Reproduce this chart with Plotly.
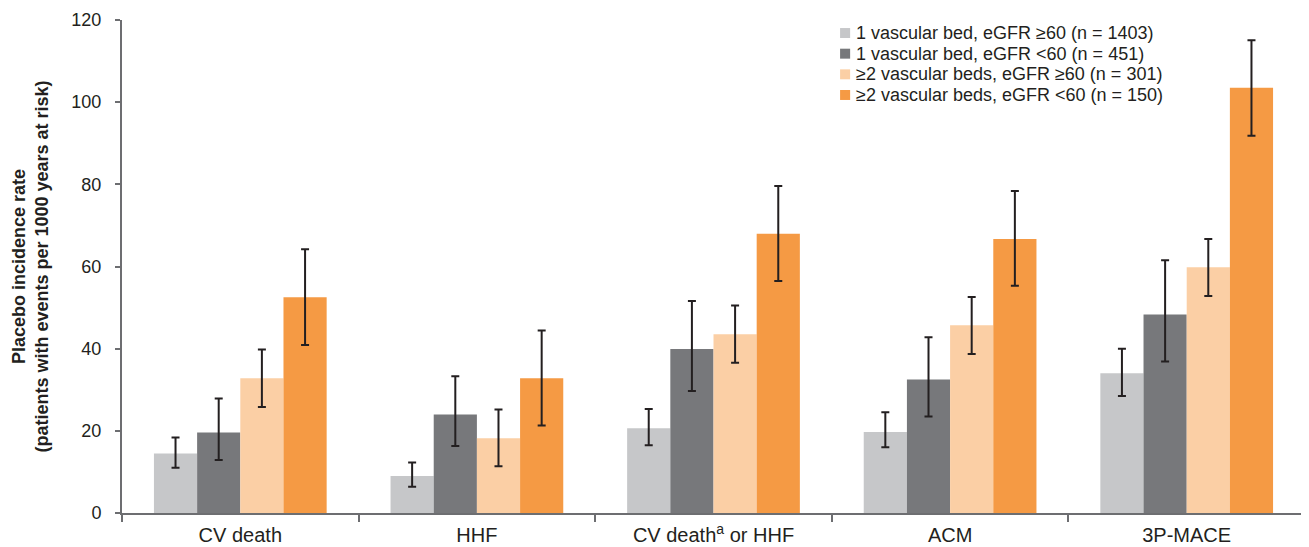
import plotly.graph_objects as go

categories = ["CV death", "HHF", "CV death<sup>a</sup> or HHF", "ACM", "3P-MACE"]
series_names = [
    "1 vascular bed, eGFR ≥60 (n = 1403)",
    "1 vascular bed, eGFR <60 (n = 451)",
    "≥2 vascular beds, eGFR ≥60 (n = 301)",
    "≥2 vascular beds, eGFR <60 (n = 150)",
]
colors = ["#c6c7c9", "#77787b", "#fbcfa5", "#f59a44"]

v1_ge60 = [14.5, 9.0, 20.6, 19.7, 34.0]
v1_ge60_hi = [18.4, 12.3, 25.3, 24.5, 40.0]
v1_ge60_lo = [11.0, 6.4, 16.5, 16.0, 28.5]

v1_lt60 = [19.6, 24.0, 39.9, 32.5, 48.3]
v1_lt60_hi = [27.9, 33.3, 51.6, 42.8, 61.5]
v1_lt60_lo = [12.9, 16.3, 29.7, 23.5, 36.9]

v2_ge60 = [32.8, 18.2, 43.5, 45.7, 59.8]
v2_ge60_hi = [39.8, 25.2, 50.5, 52.6, 66.7]
v2_ge60_lo = [25.8, 11.4, 36.6, 38.7, 52.8]

v2_lt60 = [52.5, 32.8, 68.0, 66.7, 103.5]
v2_lt60_hi = [64.2, 44.4, 79.6, 78.4, 115.1]
v2_lt60_lo = [40.9, 21.3, 56.5, 55.3, 91.8]

values = [v1_ge60, v1_lt60, v2_ge60, v2_lt60]
his = [v1_ge60_hi, v1_lt60_hi, v2_ge60_hi, v2_lt60_hi]
los = [v1_ge60_lo, v1_lt60_lo, v2_ge60_lo, v2_lt60_lo]

fig = go.Figure()
for name, col, v, hi, lo in zip(series_names, colors, values, his, los):
    fig.add_trace(go.Bar(
        x=categories, y=v, name=name, showlegend=False,
        marker=dict(color=col, line=dict(width=0)),
        error_y=dict(type="data", symmetric=False,
                     array=[h - a for h, a in zip(hi, v)],
                     arrayminus=[a - l for a, l in zip(v, lo)],
                     color="#231f20", thickness=2, width=4),
    ))

# Compact legend (square swatch + text), placed in the upper right of the plot
leg_x_sq = 0.607
leg_sq_w = 0.0085
leg_x_txt = 0.6196
leg_y0 = 0.9736
leg_dy = 0.0419
leg_sq_h = 0.0101
for i, (name, col) in enumerate(zip(series_names, colors)):
    yc = leg_y0 - i * leg_dy
    fig.add_shape(type="rect", xref="paper", yref="paper",
                  x0=leg_x_sq, x1=leg_x_sq + leg_sq_w,
                  y0=yc - leg_sq_h, y1=yc + leg_sq_h,
                  fillcolor=col, line=dict(width=0))
    fig.add_annotation(xref="paper", yref="paper", x=leg_x_txt, y=yc,
                       xanchor="left", yanchor="middle", text=name,
                       showarrow=False, font=dict(size=18, color="#231f20"),
                       borderpad=0)

axis_col = "#6d6e71"
fig.update_layout(
    width=1309, height=547,
    paper_bgcolor="white", plot_bgcolor="white",
    margin=dict(l=114, r=12, t=12, b=42, autoexpand=False),
    barmode="group", bargap=0.27, bargroupgap=0,
    font=dict(family="Liberation Sans, Arial, sans-serif", color="#231f20"),
    showlegend=False,
)
fig.update_xaxes(
    showline=True, linecolor=axis_col, linewidth=2,
    ticks="outside", tickson="boundaries", ticklen=7, tickcolor=axis_col, tickwidth=2,
    tickfont=dict(size=20), showgrid=False, automargin=False, ticklabelstandoff=3,
)
fig.update_yaxes(
    range=[0, 120], dtick=20, showline=True, linecolor=axis_col, linewidth=2,
    ticks="outside", ticklen=5, tickcolor=axis_col, tickwidth=2,
    tickfont=dict(size=18), showgrid=False, zeroline=False, automargin=False,
    ticklabelstandoff=10,
    title=dict(text="<b>Placebo incidence rate<br>(patients with events per 1000 years at risk)</b>",
               font=dict(size=18), standoff=18),
)
fig.write_html("out.html")
